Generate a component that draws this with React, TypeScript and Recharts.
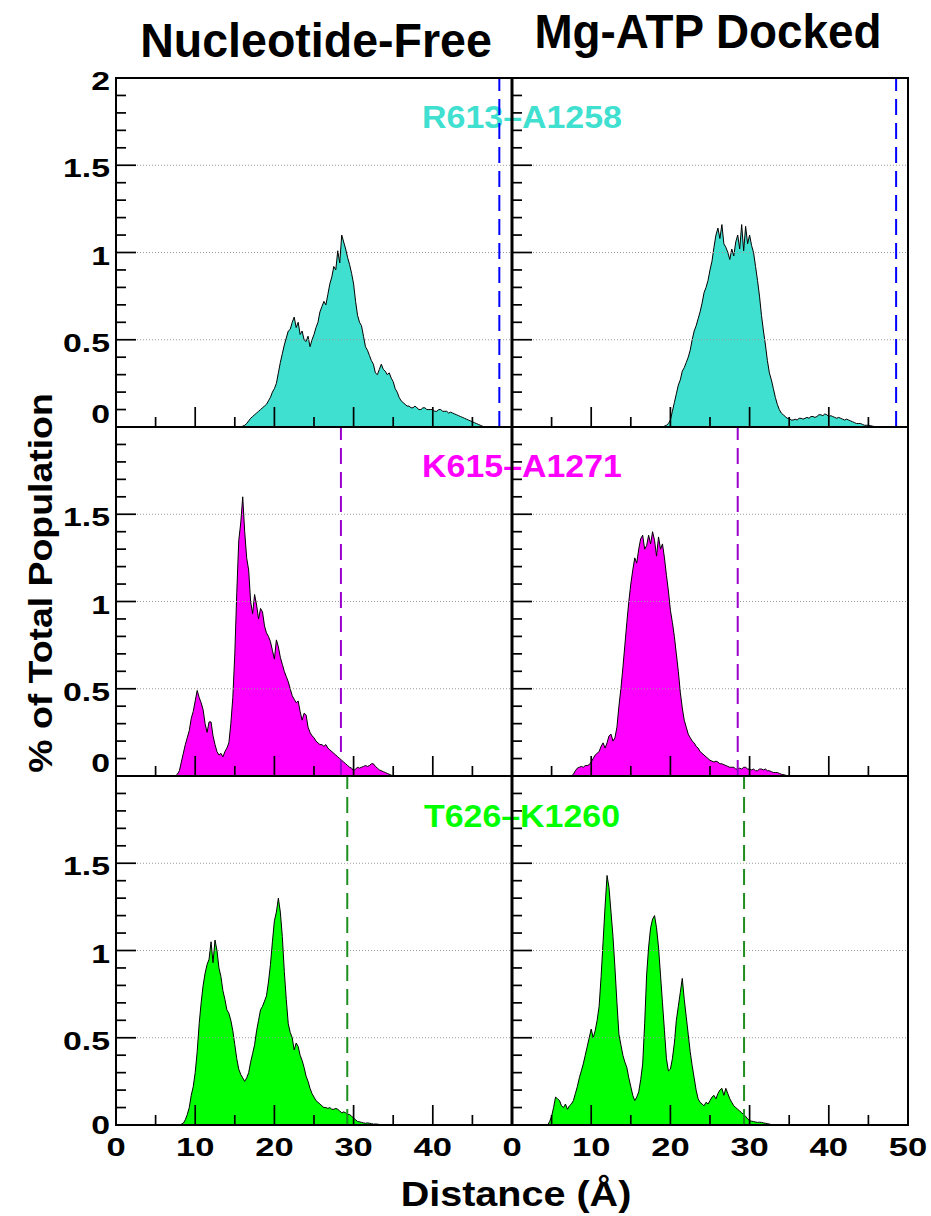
import React from "react";
import { AreaChart, Area, XAxis, YAxis, ReferenceLine } from "recharts";

// ---------- data (histogram bins, 0.25 Å wide) ----------
const BIN = 0.25;

// R613–A1258
const R613_FREE_START = 15.5;
const R613_FREE = [
  0, 0, 0.005, 0.01, 0.02, 0.035, 0.05, 0.06, 0.07, 0.08, 0.09, 0.1, 0.11, 0.12, 0.13, 0.15,
  0.17, 0.2, 0.22, 0.25, 0.31, 0.37, 0.42, 0.47, 0.51, 0.55, 0.56, 0.6, 0.63, 0.57, 0.6, 0.53,
  0.55, 0.5, 0.49, 0.52, 0.46, 0.5, 0.53, 0.57, 0.6, 0.66, 0.69, 0.72, 0.7, 0.76, 0.82, 0.86,
  0.92, 0.9, 1.01, 0.94, 1.1, 1.06, 1.02, 0.97, 0.93, 0.88, 0.82, 0.72, 0.64, 0.6, 0.58, 0.52,
  0.46, 0.44, 0.41, 0.38, 0.36, 0.31, 0.3, 0.33, 0.36, 0.33, 0.32, 0.3, 0.31, 0.28, 0.26, 0.22,
  0.2, 0.17, 0.15, 0.14, 0.13, 0.12, 0.12, 0.11, 0.11, 0.12, 0.11, 0.1, 0.1, 0.11, 0.11, 0.1,
  0.1, 0.1, 0.1, 0.09, 0.09, 0.1, 0.1, 0.09, 0.09, 0.09, 0.08, 0.085, 0.08, 0.075, 0.07, 0.065,
  0.06, 0.055, 0.05, 0.045, 0.04, 0.035, 0.03, 0.025, 0.02, 0.015, 0.01, 0.005, 0,
];
const R613_ATP_START = 19.0;
const R613_ATP = [
  0, 0.005, 0.01, 0.02, 0.04, 0.09, 0.14, 0.19, 0.24, 0.27, 0.32, 0.34, 0.37, 0.4, 0.44, 0.5,
  0.55, 0.58, 0.62, 0.66, 0.71, 0.77, 0.8, 0.84, 0.9, 0.95, 1.03, 1.1, 1.14, 1.08, 1.16, 1.05,
  1.03, 1.0, 0.96, 1.02, 0.98, 1.06, 1.1, 1.02, 1.16, 1.01, 1.15, 1.05, 1.1, 1.04, 1.0, 0.92,
  0.84, 0.75, 0.64, 0.55, 0.47, 0.38, 0.31, 0.27, 0.22, 0.17, 0.13, 0.1, 0.08, 0.07, 0.06, 0.05,
  0.05, 0.04, 0.04, 0.045, 0.04, 0.05, 0.05, 0.045, 0.05, 0.055, 0.05, 0.06, 0.06, 0.055, 0.06, 0.07,
  0.07, 0.065, 0.075, 0.07, 0.06, 0.065, 0.06, 0.055, 0.05, 0.055, 0.05, 0.045, 0.04, 0.045, 0.04, 0.035,
  0.03, 0.025, 0.02, 0.02, 0.02, 0.015, 0.01, 0.01, 0.01, 0.008, 0.005, 0.003, 0,
];

// K615–A1271
const K615_FREE_START = 7.5;
const K615_FREE = [
  0, 0.01, 0.03, 0.08, 0.13, 0.18, 0.22, 0.26, 0.33, 0.37, 0.43, 0.49, 0.45, 0.42, 0.38, 0.3,
  0.25, 0.31, 0.31, 0.23, 0.18, 0.14, 0.12, 0.13, 0.11, 0.14, 0.16, 0.19, 0.3, 0.45, 0.7, 1.05,
  1.35, 1.45, 1.6, 1.4, 1.25, 1.18, 1.0, 0.93, 1.04, 0.98, 0.9, 0.96, 0.94, 0.86, 0.82, 0.8,
  0.77, 0.72, 0.67, 0.78, 0.74, 0.68, 0.64, 0.6, 0.57, 0.54, 0.5, 0.46, 0.44, 0.42, 0.43, 0.37,
  0.32, 0.36, 0.35, 0.28, 0.25, 0.23, 0.22, 0.2, 0.19, 0.18, 0.18, 0.17, 0.18, 0.16, 0.15, 0.14,
  0.13, 0.12, 0.11, 0.1, 0.09, 0.08, 0.07, 0.06, 0.05, 0.045, 0.03, 0.04, 0.05, 0.045, 0.05, 0.055,
  0.06, 0.055, 0.06, 0.07, 0.07, 0.055, 0.045, 0.035, 0.03, 0.025, 0.02, 0.015, 0.01, 0.005, 0,
];
const K615_ATP_START = 7.5;
const K615_ATP = [
  0, 0.01, 0.03, 0.045, 0.05, 0.055, 0.05, 0.06, 0.06, 0.065, 0.08, 0.1, 0.12, 0.13, 0.14, 0.17,
  0.19, 0.16, 0.19, 0.23, 0.24, 0.2, 0.22, 0.28, 0.4, 0.5, 0.62, 0.75, 0.88, 1.0, 1.1, 1.18,
  1.25, 1.22, 1.3, 1.36, 1.38, 1.3, 1.32, 1.38, 1.33, 1.4, 1.35, 1.26, 1.37, 1.3, 1.33, 1.25,
  1.15, 1.06, 0.95, 0.88, 0.8, 0.7, 0.6, 0.48, 0.39, 0.32, 0.28, 0.24, 0.22, 0.2, 0.19, 0.17,
  0.16, 0.14, 0.13, 0.12, 0.11, 0.1, 0.09, 0.085, 0.08, 0.085, 0.08, 0.07, 0.07, 0.065, 0.06, 0.055,
  0.05, 0.05, 0.05, 0.04, 0.04, 0.045, 0.04, 0.05, 0.05, 0.04, 0.04, 0.035, 0.04, 0.03, 0.03, 0.04,
  0.04, 0.035, 0.04, 0.03, 0.03, 0.025, 0.02, 0.02, 0.02, 0.015, 0.01, 0.008, 0.005, 0.002, 0,
];

// T626–K1260
const T626_FREE_START = 8.0;
const T626_FREE = [
  0, 0.005, 0.01, 0.03, 0.06, 0.1, 0.17, 0.22, 0.3, 0.42, 0.58, 0.7, 0.8, 0.87, 0.92, 0.95,
  1.05, 0.93, 1.06, 1.0, 0.9, 0.85, 0.77, 0.72, 0.66, 0.64, 0.6, 0.54, 0.46, 0.38, 0.32, 0.29,
  0.27, 0.25, 0.27, 0.3, 0.36, 0.41, 0.46, 0.54, 0.6, 0.66, 0.68, 0.71, 0.74, 0.82, 0.92, 1.05,
  1.17, 1.22, 1.3, 1.22, 1.08, 0.88, 0.72, 0.58, 0.53, 0.5, 0.43, 0.47, 0.45, 0.4, 0.37, 0.33,
  0.28, 0.25, 0.21, 0.18, 0.16, 0.14, 0.13, 0.12, 0.11, 0.1, 0.1, 0.095, 0.1, 0.09, 0.09, 0.095,
  0.09, 0.08, 0.07, 0.075, 0.07, 0.06, 0.06, 0.05, 0.04, 0.03, 0.02, 0.018, 0.015, 0.012, 0.01, 0.012,
  0.01, 0.008, 0.005, 0.006, 0.005, 0.003, 0,
];
const T626_ATP_START = 4.5;
const T626_ATP = [
  0, 0.02, 0.05, 0.1, 0.16, 0.15, 0.14, 0.11, 0.1, 0.12, 0.09, 0.11, 0.12, 0.14, 0.18, 0.22,
  0.27, 0.31, 0.35, 0.4, 0.45, 0.5, 0.55, 0.5, 0.54, 0.6, 0.68, 0.85, 1.05, 1.25, 1.43, 1.36,
  1.22, 1.08, 0.9, 0.7, 0.52, 0.46, 0.4, 0.36, 0.33, 0.27, 0.22, 0.17, 0.14, 0.16, 0.19, 0.26,
  0.35, 0.58, 0.86, 1.02, 1.13, 1.18, 1.2, 1.13, 1.02, 0.86, 0.7, 0.54, 0.38, 0.31, 0.32, 0.38,
  0.47, 0.6, 0.68, 0.76, 0.84, 0.72, 0.62, 0.52, 0.42, 0.34, 0.27, 0.2, 0.15, 0.13, 0.12, 0.11,
  0.13, 0.12, 0.14, 0.16, 0.17, 0.15, 0.18, 0.2, 0.21, 0.17, 0.21, 0.18, 0.15, 0.13, 0.11, 0.1,
  0.09, 0.08, 0.07, 0.06, 0.05, 0.035, 0.025, 0.022, 0.02, 0.017, 0.015, 0.016, 0.015, 0.012, 0.01, 0.008,
  0.005, 0.003, 0,
];

// reference distances (dashed lines)
const REF_R613 = [48.4, 48.5];
const REF_K615 = [28.4, 28.5];
const REF_T626 = [29.2, 29.3];

// ---------- ticks ----------
const X_TICKS = [0, 5, 10, 15, 20, 25, 30, 35, 40, 45, 50];
const X_MAJOR = [0, 10, 20, 30, 40, 50];
const X_LABELS_LEFT = [0, 10, 20, 30, 40];
const X_LABELS_RIGHT = [0, 10, 20, 30, 40, 50];
const Y_TICKS = [0, 0.1, 0.2, 0.3, 0.4, 0.5, 0.6, 0.7, 0.8, 0.9, 1, 1.1, 1.2, 1.3, 1.4, 1.5, 1.6, 1.7, 1.8, 1.9, 2];
const Y_MAJOR = [0, 0.5, 1, 1.5, 2];
const Y_LABELS_TOP = [0, 0.5, 1, 1.5, 2];
const Y_LABELS_LOWER = [0, 0.5, 1, 1.5];
const GRID_Y = [0.5, 1, 1.5];

const TITLES = ["Nucleotide-Free", "Mg-ATP Docked"];
const PAIR_LABELS = ["R613\u2013A1258", "K615\u2013A1271", "T626\u2013K1260"];
const FILLS = ["#40E0D0", "#FF00FF", "#00FF00"];
const REF_COLORS = ["#0000FF", "#9900CC", "#1E8E1E"];
const Y_TITLE = "% of Total Population";
const X_TITLE = "Distance (\u00C5)";

const FONT = "'Liberation Sans', Arial, Helvetica, sans-serif";
const ROW_TOP = [78, 427, 776];
const PLOT_H = 349;
const PLOT_W = 396;

const has = (arr: number[], v: number) => arr.some((a) => Math.abs(a - v) < 1e-6);

type PanelProps = {
  values: number[];
  start: number;
  fill: string;
  refX: number;
  refColor: string;
  col: number;
  row: number;
  yLabels: number[];
  xLabels: number[];
};

function Panel({ values, start, fill, refX, refColor, col, row, yLabels, xLabels }: PanelProps) {
  const data = values.map((v, i) => ({ d: start + i * BIN, v }));
  const MT = 14;
  const MB = 46;
  const PL = col === 0 ? 116 : 20;
  const left = col === 0 ? 0 : 492;
  const width = col === 0 ? 512 : 439;
  const MR = width - PL - PLOT_W;
  const top = ROW_TOP[row] - MT;
  const height = PLOT_H + MT + MB;
  const PB = MT + PLOT_H;

  const yTick = (p: any) => {
    const v = p.payload.value;
    const y = p.payload.coordinate ?? p.y;
    const len = has(Y_MAJOR, v) ? 20 : 10;
    const show = has(yLabels, v);
    const base = v === 0 ? (row === 2 ? y + 9 : y - 4) : y + 12;
    return (
      <g>
        <line x1={PL} x2={PL + len} y1={y} y2={y} stroke="#000" strokeWidth={1.7} />
        {show && (
          <text
            transform={`translate(${PL - 6},${base}) scale(1.3,1)`}
            textAnchor="end"
            fontSize={26}
            fontWeight="bold"
            fontFamily={FONT}
            fill="#000"
          >
            {String(v)}
          </text>
        )}
      </g>
    );
  };

  const xTick = (p: any) => {
    const v = p.payload.value;
    const x = p.payload.coordinate ?? p.x;
    const len = has(X_MAJOR, v) ? 20 : 10;
    const show = has(xLabels, v);
    return (
      <g>
        <line x1={x} x2={x} y1={PB} y2={PB - len} stroke="#000" strokeWidth={1.7} />
        {show && (
          <text
            transform={`translate(${x},${PB + 31}) scale(1.33,1)`}
            textAnchor="middle"
            fontSize={26}
            fontWeight="bold"
            fontFamily={FONT}
            fill="#000"
          >
            {String(v)}
          </text>
        )}
      </g>
    );
  };

  return (
    <div style={{ position: "absolute", left, top, width, height }}>
      <AreaChart width={width} height={height} data={data} margin={{ top: MT, right: MR, bottom: 0, left: 0 }}>
        {GRID_Y.map((g) => (
          <ReferenceLine key={g} y={g} stroke="#9a9a9a" strokeWidth={1} strokeDasharray="1 2" />
        ))}
        <Area
          type="linear"
          dataKey="v"
          stroke="#000"
          strokeWidth={1}
          fill={fill}
          fillOpacity={1}
          dot={false}
          activeDot={false}
          isAnimationActive={false}
        />
        <ReferenceLine x={refX} stroke={refColor} strokeWidth={2} strokeDasharray="16 8" />
        <XAxis
          type="number"
          dataKey="d"
          domain={[0, 50]}
          allowDataOverflow
          ticks={X_TICKS}
          interval={0}
          height={MB}
          tick={xTick}
          tickLine={false}
          axisLine={false}
        />
        <YAxis
          type="number"
          domain={[0, 2]}
          allowDataOverflow
          ticks={Y_TICKS}
          interval={0}
          width={PL}
          tick={yTick}
          tickLine={false}
          axisLine={false}
        />
      </AreaChart>
    </div>
  );
}

const SERIES = [
  [
    { values: R613_FREE, start: R613_FREE_START, ref: REF_R613[0] },
    { values: R613_ATP, start: R613_ATP_START, ref: REF_R613[1] },
  ],
  [
    { values: K615_FREE, start: K615_FREE_START, ref: REF_K615[0] },
    { values: K615_ATP, start: K615_ATP_START, ref: REF_K615[1] },
  ],
  [
    { values: T626_FREE, start: T626_FREE_START, ref: REF_T626[0] },
    { values: T626_ATP, start: T626_ATP_START, ref: REF_T626[1] },
  ],
];

export default function App() {
  const textStyle = { fontFamily: FONT, fontWeight: "bold" as const };
  return (
    <div style={{ position: "absolute", left: 0, top: 0, width: 931, height: 1216, background: "#fff", overflow: "hidden" }}>
      {/* texts behind the panels */}
      <svg width={931} height={1216} style={{ position: "absolute", left: 0, top: 0 }}>
        <text transform="translate(316,57) scale(0.97,1)" textAnchor="middle" fontSize={48} fill="#000" {...textStyle}>
          {TITLES[0]}
        </text>
        <text transform="translate(708,48) scale(0.955,1)" textAnchor="middle" fontSize={48} fill="#000" {...textStyle}>
          {TITLES[1]}
        </text>
        {PAIR_LABELS.map((t, i) => (
          <text
            key={t}
            transform={`translate(522,${[128, 477, 827][i]}) scale(1.06,1)`}
            textAnchor="middle"
            fontSize={32}
            fill={FILLS[i]}
            {...textStyle}
          >
            {t}
          </text>
        ))}
        <text transform="translate(52,583) rotate(-90) scale(1.1,1)" textAnchor="middle" fontSize={34} fill="#000" {...textStyle}>
          {Y_TITLE}
        </text>
        <text transform="translate(516,1206) scale(1.13,1)" textAnchor="middle" fontSize={35} fill="#000" {...textStyle}>
          {X_TITLE}
        </text>
      </svg>

      {SERIES.map((rowSeries, row) =>
        rowSeries.map((s, col) => (
          <Panel
            key={`${row}-${col}`}
            values={s.values}
            start={s.start}
            fill={FILLS[row]}
            refX={s.ref}
            refColor={REF_COLORS[row]}
            col={col}
            row={row}
            yLabels={col === 0 ? (row === 0 ? Y_LABELS_TOP : Y_LABELS_LOWER) : []}
            xLabels={row === 2 ? (col === 0 ? X_LABELS_LEFT : X_LABELS_RIGHT) : []}
          />
        ))
      )}

      {/* panel frames */}
      <svg width={931} height={1216} style={{ position: "absolute", left: 0, top: 0, pointerEvents: "none" }}>
        <rect x={116} y={78} width={792} height={1047} fill="none" stroke="#000" strokeWidth={2} />
        <line x1={116} x2={908} y1={427} y2={427} stroke="#000" strokeWidth={2} />
        <line x1={116} x2={908} y1={776} y2={776} stroke="#000" strokeWidth={2} />
        <line x1={512} x2={512} y1={78} y2={1125} stroke="#000" strokeWidth={3} />
      </svg>
    </div>
  );
}
